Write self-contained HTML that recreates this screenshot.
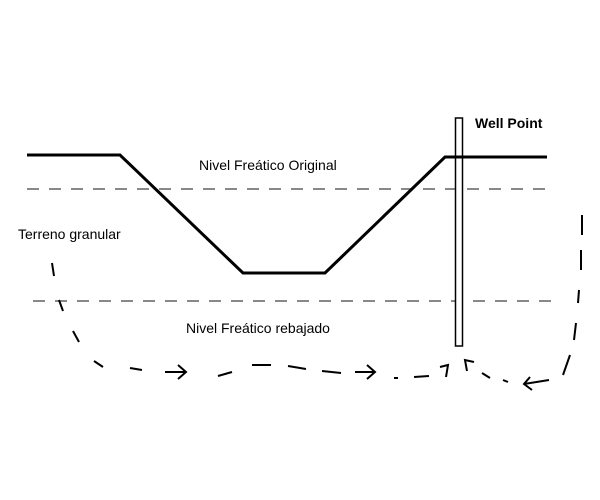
<!DOCTYPE html>
<html><head><meta charset="utf-8"><style>html,body{margin:0;padding:0;background:#fff}svg{display:block}</style></head>
<body>
<svg width="600" height="500" viewBox="0 0 600 500" xmlns="http://www.w3.org/2000/svg" font-family="Liberation Sans, sans-serif">
<rect width="600" height="500" fill="#fff"/>
<g stroke="#888" stroke-width="2" stroke-dasharray="12,10" fill="none">
<line x1="27" y1="189" x2="545" y2="189"/>
<line x1="33" y1="301" x2="558" y2="301"/>
</g>
<polyline points="27,155 120,155 243,273 325,273 445,157 547,157" fill="none" stroke="#000" stroke-width="3"/>
<rect x="455.5" y="118" width="7" height="228" fill="#fff" stroke="#000" stroke-width="1.5"/>
<line x1="445" y1="157" x2="462" y2="157" stroke="#000" stroke-width="3"/>
<text x="475" y="128" font-size="14" font-weight="bold">Well Point</text>
<text x="199" y="170" font-size="14">Nivel Freático Original</text>
<text x="18" y="239" font-size="14">Terreno granular</text>
<text x="186" y="333" font-size="14">Nivel Freático rebajado</text>
<g stroke="#000" stroke-width="2" fill="none" stroke-linecap="butt">
<path d="M52,263 L54,276"/>
<path d="M59,300 L63,311"/>
<path d="M73,331 L79,342"/>
<path d="M94,361 L103,367"/>
<path d="M130,368 L142,370"/>
<path d="M165,372 L186,372 M178,365 L186,372 L178,379"/>
<path d="M218,376 L232,372"/>
<path d="M252,365 L271,365"/>
<path d="M288,366 L306,369"/>
<path d="M322,371 L341,373"/>
<path d="M355,372 L375,372 M367,365 L375,372 L367,379"/>
<path d="M394,378 L398,378"/>
<path d="M414,377 L429,376"/>
<path d="M440,367 L448,365 L446,377"/>
<path d="M474,362 L465,360 L467,371"/>
<path d="M482,373 L490,378"/>
<path d="M503,380 L508,382"/>
<path d="M549,380 L524,384 M530,377 L524,384 L532,390"/>
<path d="M563,375 L570,355"/>
<path d="M574,340 L576,323"/>
<path d="M578,303 L579,290"/>
<path d="M581,250 L581,270"/>
<path d="M582,215 L582,235"/>
</g>
</svg>
</body></html>
